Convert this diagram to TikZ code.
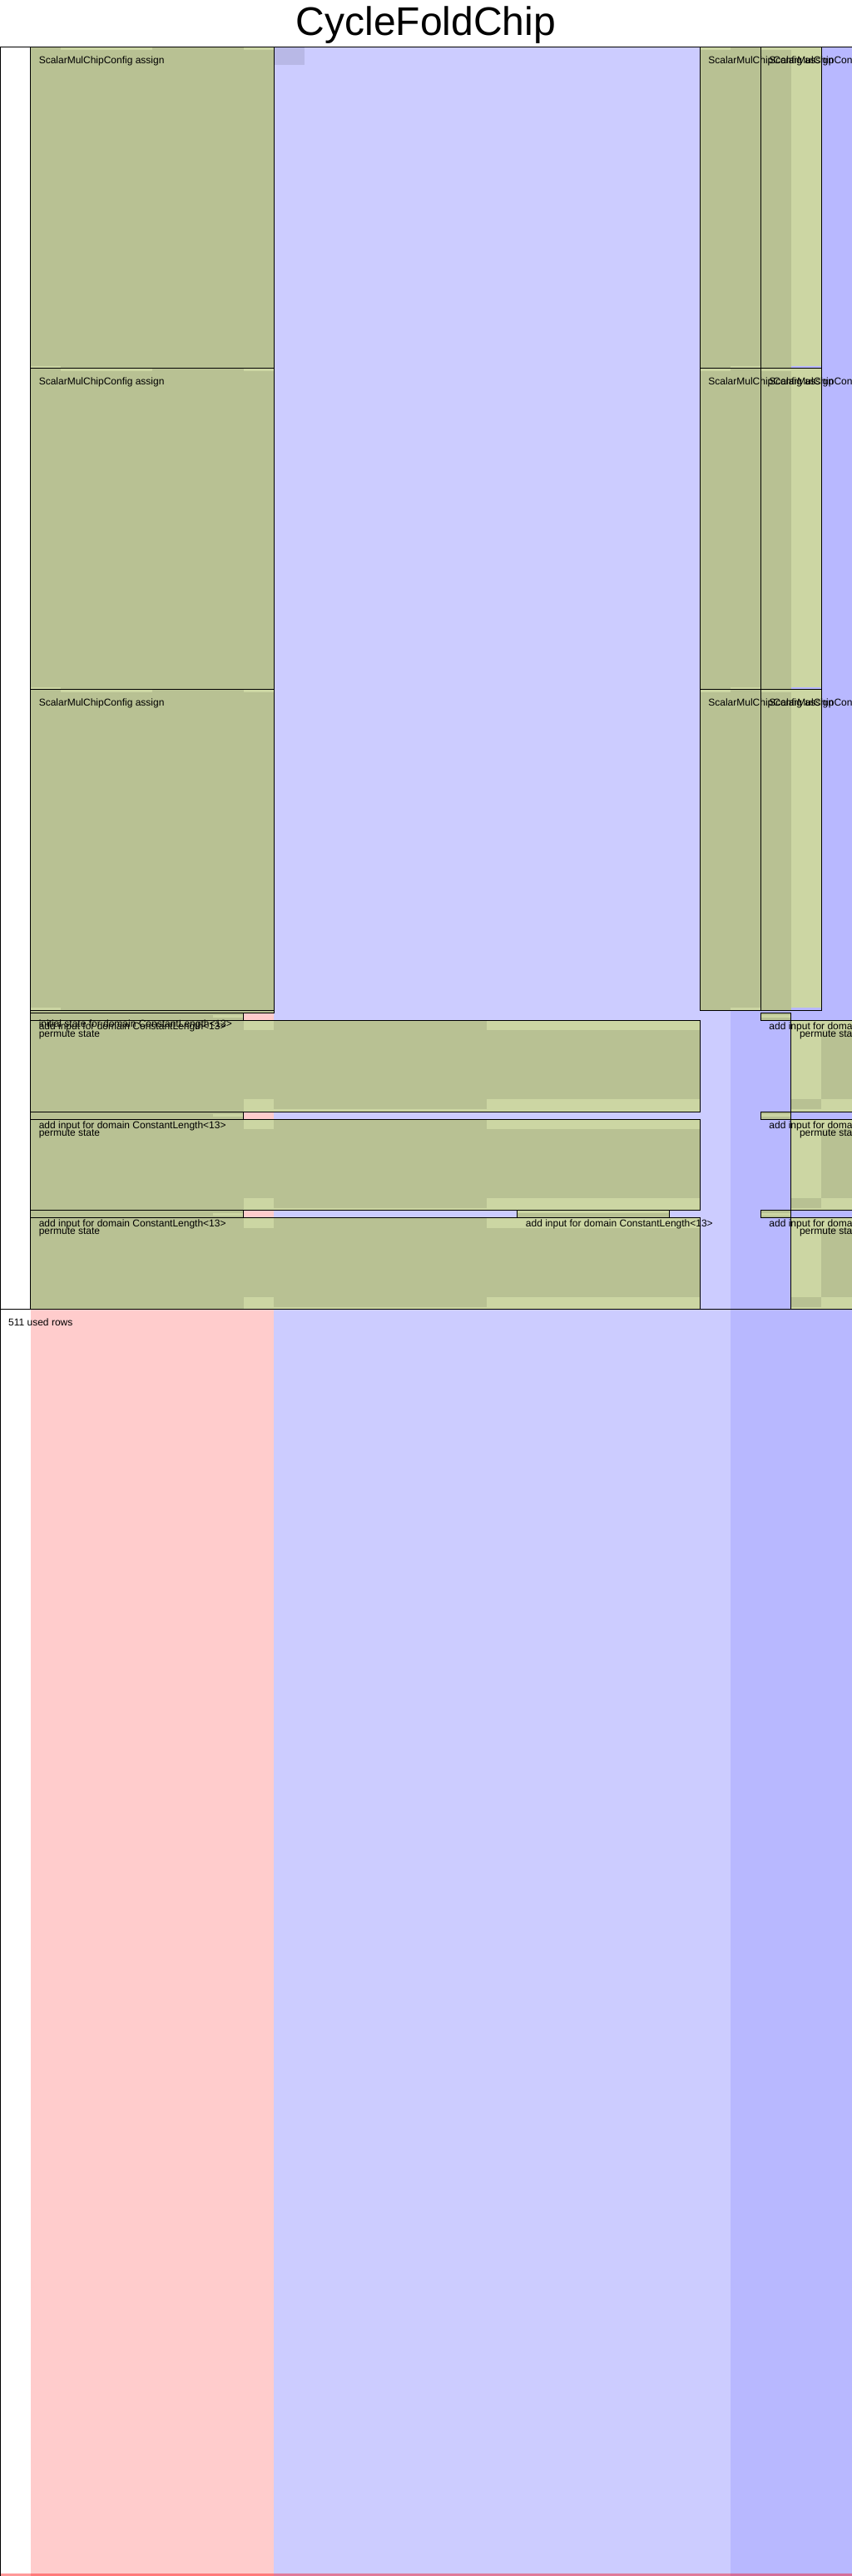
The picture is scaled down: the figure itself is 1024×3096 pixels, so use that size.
\documentclass[tikz,border=0pt]{standalone}
\usepackage{fontspec}
\setmainfont{Liberation Sans}
\usepackage{xcolor}
\usepackage{tikz}

\definecolor{advicecol}{HTML}{FFCCCC}
\definecolor{fixedcol}{HTML}{CCCCFF}
\definecolor{selectorcol}{HTML}{B8B8FF}
\definecolor{fixedcell}{HTML}{B8B8E6}
\definecolor{regionfill}{HTML}{CCD6A3}
\definecolor{cellfill}{HTML}{B8C193}

\begin{document}
\begin{tikzpicture}[
    x=1pt, y=-1pt,
    regionbox/.style={draw=black, line width=1pt},
    frameline/.style={draw=black, line width=1pt},
    lbl/.style={anchor=base west, inner sep=0pt, xshift=10pt, yshift=-20pt, font=\fontsize{12}{12}\selectfont},
    titlefont/.style={anchor=base, inner sep=0pt, font=\fontsize{48}{48}\selectfont}
]
\useasboundingbox (0,0) rectangle (1024,3096);
\clip (0,0) rectangle (1024,3096);

% Title
\node[titlefont] (title) at (512,43) {CycleFoldChip};

\begin{scope}[yshift=-57pt, x=36.571pt, y=-2.9678pt]

% Columns
\fill[white] (0,0) rectangle (1,1024);
\fill[advicecol] (1,0) rectangle (9,1024);
\fill[fixedcol] (9,0) rectangle (24,1024);
\fill[selectorcol] (24,0) rectangle (28,1024);
\fill[fixedcell] (9,0) rectangle (10,7);

% ScalarMulChipConfig assign
\foreach \rw in {0,130,260} {
  \fill[cellfill] (1,\rw) rectangle (9,\rw+130);
  \fill[regionfill] (8,\rw) rectangle (9,\rw+1);
  \fill[regionfill] (2,\rw) rectangle (5,\rw+1);
  \fill[regionfill] (1,\rw+129) rectangle (2,\rw+130);
  \draw[regionbox] (1,\rw) rectangle (9,\rw+130);
  \fill[cellfill] (23,\rw) rectangle (25,\rw+130);
  \fill[regionfill] (23,\rw) rectangle (24,\rw+1);
  \fill[regionfill] (24,\rw+129) rectangle (25,\rw+130);
  \draw[regionbox] (23,\rw) rectangle (25,\rw+130);
  \fill[cellfill] (25,\rw) rectangle (26,\rw+130);
  \fill[regionfill] (26,\rw) rectangle (27,\rw+129);
  \fill[regionfill] (25,\rw) rectangle (26,\rw+1);
  \draw[regionbox] (25,\rw) rectangle (27,\rw+130);
}

% initial state
\fill[cellfill] (1,390) rectangle (9,391);
\draw[regionbox] (1,390) rectangle (9,391);

% add input / permute state
\foreach \rw in {391,431,471} {
  \fill[cellfill] (1,\rw) rectangle (8,\rw+3);
  \fill[regionfill] (7,\rw+1) rectangle (8,\rw+2);
  \draw[regionbox] (1,\rw) rectangle (8,\rw+3);
  \fill[cellfill] (25,\rw) rectangle (26,\rw+3);
  \fill[regionfill] (25,\rw+1) rectangle (26,\rw+2);
  \draw[regionbox] (25,\rw) rectangle (26,\rw+3);
  % permute, left part
  \fill[cellfill] (1,\rw+3) rectangle (23,\rw+40);
  \fill[regionfill] (8,\rw+3) rectangle (9,\rw+7);
  \fill[regionfill] (8,\rw+35) rectangle (9,\rw+40);
  \fill[regionfill] (16,\rw+3) rectangle (23,\rw+7);
  \fill[regionfill] (16,\rw+35) rectangle (23,\rw+40);
  \fill[regionfill] (9,\rw+39) rectangle (16,\rw+40);
  \draw[regionbox] (1,\rw+3) rectangle (23,\rw+40);
  % permute, right part
  \fill[regionfill] (26,\rw+3) rectangle (29,\rw+40);
  \fill[cellfill] (26,\rw+35) rectangle (27,\rw+39);
  \fill[cellfill] (27,\rw+7) rectangle (29,\rw+35);
  \draw[regionbox] (26,\rw+3) rectangle (30,\rw+40);
}

% extra add input
\fill[cellfill] (17,471) rectangle (22,474);
\fill[regionfill] (17,471) rectangle (22,472);
\draw[regionbox] (17,471) rectangle (22,474);

% used rows
\draw[frameline] (0,511) -- (28,511);

% last row
\fill[red, opacity=0.4] (0,1023) rectangle (28,1024);

% Labels
\foreach \rw in {0,130,260} {
  \node[lbl] (assign-l-\rw) at (1,\rw) {ScalarMulChipConfig assign};
  \node[lbl] (assign-a-\rw) at (23,\rw) {ScalarMulChipConfig assign};
  \node[lbl] (assign-b-\rw) at (25,\rw) {ScalarMulChipConfig assign};
}
\node[lbl] (init-state) at (1,390) {initial state for domain ConstantLength<13>};
\foreach \rw in {391,431,471} {
  \node[lbl] (add-l-\rw) at (1,\rw) {add input for domain ConstantLength<13>};
  \node[lbl] (add-r-\rw) at (25,\rw) {add input for domain ConstantLength<13>};
  \node[lbl] (perm-l-\rw) at (1,\rw+3) {permute state};
  \node[lbl] (perm-r-\rw) at (26,\rw+3) {permute state};
}
\node[lbl] (add-m-471) at (17,471) {add input for domain ConstantLength<13>};
\node[lbl] (used-rows) at (0,511) {511 used rows};
\end{scope}

% Frame
\draw[frameline] (0,57) -- (1024,57);
\draw[frameline] (0.5,57) -- (0.5,3096);

\end{tikzpicture}
\end{document}
